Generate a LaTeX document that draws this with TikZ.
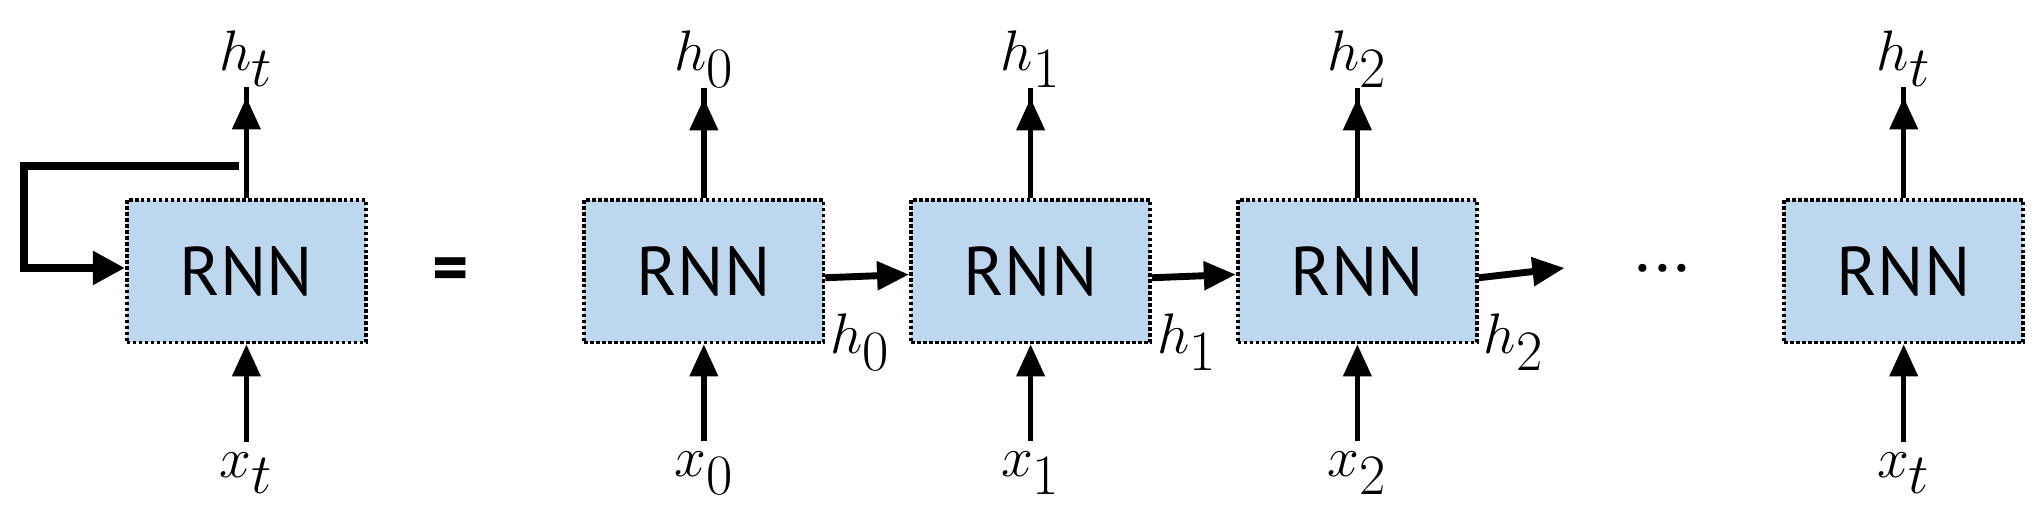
\documentclass[tikz,border=0pt]{standalone}
\usepackage{fontspec}
\setmainfont{Liberation Serif}
\newfontfamily\boxfont{PT Sans}
\usetikzlibrary{arrows.meta}
\begin{document}
\begin{tikzpicture}[x=0.02cm,y=-0.02cm,
  rnn/.style={draw, densely dotted, line width=1.6pt, fill=blue!30!cyan!20!white, fill={rgb,255:red,189;green,215;blue,238}, minimum width=3.66cm, minimum height=2.18cm, inner sep=0pt, font=\boxfont\fontsize{30}{30}\selectfont},
  lab/.style={font=\fontsize{34}{34}\selectfont\itshape, inner sep=0pt},
  arr/.style={line width=2.4pt, -{Triangle[length=14pt,width=12pt]}}]
\useasboundingbox (0,0) rectangle (1560,402.4);
\foreach \n/\x in {a/188.5,b/538.5,c/788.5,d/1038.5,e/1456.5}{
  \node[rnn] (\n) at (\x,207.5) {RNN};
}
\node[lab] (ha) at (188.5,45) {$h_t$};
\node[lab] (xa) at (188.5,362) {$x_t$};
\node[lab] (hb) at (538.5,45) {$h_0$};
\node[lab] (xb) at (538.5,362) {$x_0$};
\node[lab] (hc) at (788.5,45) {$h_1$};
\node[lab] (xc) at (788.5,362) {$x_1$};
\node[lab] (hd) at (1038.5,45) {$h_2$};
\node[lab] (xd) at (1038.5,362) {$x_2$};
\node[lab] (he) at (1456.5,45) {$h_t$};
\node[lab] (xe) at (1456.5,362) {$x_t$};
\foreach \n in {a,b,c,d,e}{
  \draw[arr] (\n.north) -- (h\n.south) ++(0,8);
  \draw[arr] (x\n.north) ++(0,-8) coordinate (s\n) -- (\n.south);
}
\coordinate (fb) at (183,127);
\draw[line width=3.5pt, -{Triangle[length=14pt,width=14pt]}] (fb) -- (18,127) -- (18,205) -- (a.west |- 0,205);
\node[font=\boxfont\bfseries\fontsize{30}{30}\selectfont] (eq) at (345,210) {=};
\draw[arr, line width=3pt] (b.east) ++(0,5) -- ([yshift=-0.05cm]c.west);
\draw[arr, line width=3pt] (c.east) ++(0,5) -- ([yshift=-0.05cm]d.west);
\coordinate (end) at (1197,205);
\draw[arr, line width=3pt] (d.east) ++(0,5) -- (end);
\node[lab] (l0) at (658,262) {$h_0$};
\node[lab] (l1) at (908,262) {$h_1$};
\node[lab] (l2) at (1158,262) {$h_2$};
\node[font=\boxfont\fontsize{30}{30}\selectfont] (dots) at (1272,205) {...};
\end{tikzpicture}
\end{document}
